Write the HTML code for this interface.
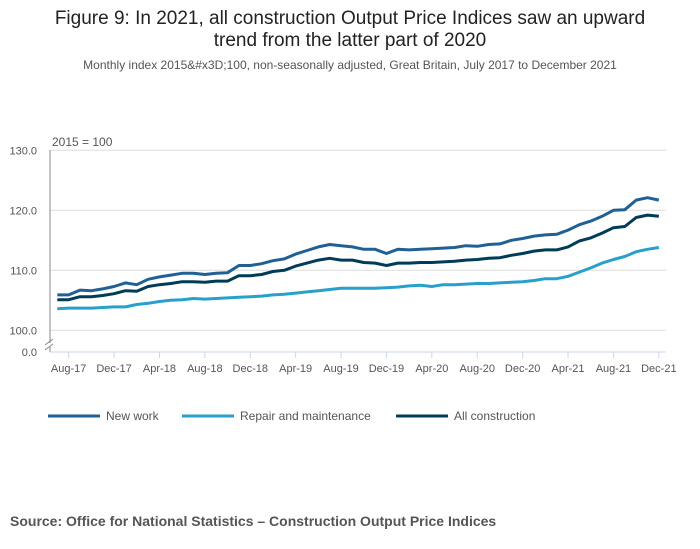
<!DOCTYPE html>
<html><head><meta charset="utf-8"><style>
body{margin:0;background:#fff;width:700px;height:549px;overflow:hidden;font-family:"Liberation Sans",sans-serif}
</style></head><body>
<svg width="700" height="549" style="position:absolute;left:0;top:0">
<text x="350" y="24" text-anchor="middle" font-size="19" fill="#222">Figure 9: In 2021, all construction Output Price Indices saw an upward</text>
<text x="350" y="46" text-anchor="middle" font-size="19" fill="#222">trend from the latter part of 2020</text>
<text x="350" y="69" text-anchor="middle" font-size="12" fill="#555">Monthly index 2015&amp;#x3D;100, non-seasonally adjusted, Great Britain, July 2017 to December 2021</text>
<text x="52" y="146" font-size="12" fill="#555">2015 = 100</text>
<g id="grid"></g><g id="axes"></g><g id="series"></g>
<g id="legend"></g>
<text x="10" y="526" font-size="14" font-weight="bold" fill="#555">Source: Office for National Statistics – Construction Output Price Indices</text>
</svg>
<script>
const yTicks=[100,110,120,130];
const xLabels=["Aug-17","Dec-17","Apr-18","Aug-18","Dec-18","Apr-19","Aug-19","Dec-19","Apr-20","Aug-20","Dec-20","Apr-21","Aug-21","Dec-21"];
const newWork=[105.9,105.9,106.7,106.6,106.9,107.3,107.9,107.6,108.5,108.9,109.2,109.5,109.5,109.3,109.5,109.6,110.8,110.8,111.1,111.6,111.9,112.7,113.3,113.9,114.3,114.1,113.9,113.5,113.5,112.8,113.5,113.4,113.5,113.6,113.7,113.8,114.1,114.0,114.3,114.4,115.0,115.3,115.7,115.9,116.0,116.7,117.6,118.2,119.0,120.0,120.1,121.7,122.1,121.7];
const repair=[103.6,103.7,103.7,103.7,103.8,103.9,103.9,104.3,104.5,104.8,105.0,105.1,105.3,105.2,105.3,105.4,105.5,105.6,105.7,105.9,106.0,106.2,106.4,106.6,106.8,107.0,107.0,107.0,107.0,107.1,107.2,107.4,107.5,107.3,107.6,107.6,107.7,107.8,107.8,107.9,108.0,108.1,108.3,108.6,108.6,109.0,109.7,110.4,111.2,111.8,112.3,113.1,113.5,113.8];
const allCons=[105.1,105.1,105.6,105.6,105.8,106.1,106.6,106.5,107.3,107.6,107.8,108.1,108.1,108.0,108.2,108.2,109.1,109.1,109.3,109.8,110.0,110.7,111.2,111.7,112.0,111.7,111.7,111.3,111.2,110.8,111.2,111.2,111.3,111.3,111.4,111.5,111.7,111.8,112.0,112.1,112.5,112.8,113.2,113.4,113.4,113.9,114.9,115.4,116.2,117.1,117.3,118.8,119.2,119.0];
const NS="http://www.w3.org/2000/svg";
const x=i=>57.3+i*11.35;
const y=v=>330.3-(v-100)*6;
function mk(t,a,p){const e=document.createElementNS(NS,t);for(const k in a)e.setAttribute(k,a[k]);p.appendChild(e);return e;}
const grid=document.getElementById('grid'),axes=document.getElementById('axes'),ser=document.getElementById('series'),leg=document.getElementById('legend');
yTicks.forEach(v=>{
 const l=mk('line',{x1:50,x2:666,y1:y(v),y2:y(v),stroke:'#ddd'},grid);
 
 
 const t=mk('text',{x:37,y:y(v)+4,'text-anchor':'end','font-size':11,fill:'#555'},axes);t.textContent=v.toFixed(1);
 
 
});
const z=mk('text',{x:37,y:356,'text-anchor':'end','font-size':11,fill:'#555'},axes);z.textContent='0.0';


mk('line',{x1:50,x2:50,y1:150,y2:343,stroke:'#888'},axes);
mk('line',{x1:50,x2:50,y1:347,y2:352,stroke:'#888'},axes);
mk('line',{x1:45,x2:53,y1:345,y2:339,stroke:'#888'},axes);
mk('line',{x1:45,x2:53,y1:350,y2:344,stroke:'#888'},axes);
mk('line',{x1:50,x2:666,y1:352,y2:352,stroke:'#ccd6eb'},axes);
xLabels.forEach((s,k)=>{
 const i=1+k*4;
 mk('line',{x1:x(i),x2:x(i),y1:352,y2:358,stroke:'#ccd6eb'},axes);
 const t=mk('text',{x:x(i),y:372,'text-anchor':'middle','font-size':11,fill:'#555'},axes);t.textContent=s;
 
 
});
const series=[["New work",newWork,"#206095"],["Repair and maintenance",repair,"#27a0cc"],["All construction",allCons,"#003c57"]];
const lx=[48,182,396];
series.forEach(([n,d,c],k)=>{
 const p=mk('polyline',{points:d.map((v,i)=>x(i)+','+y(v)).join(' '),fill:'none',stroke:c,'stroke-width':3,'stroke-linejoin':'round'},ser);
 
 
 const g=mk('g',{},leg);
 
 
 mk('line',{x1:lx[k],x2:lx[k]+52,y1:416,y2:416,stroke:c,'stroke-width':3},g);
 const t=mk('text',{x:lx[k]+58,y:420,'font-size':12,fill:'#555'},g);t.textContent=n;
});
</script>
</body></html>
